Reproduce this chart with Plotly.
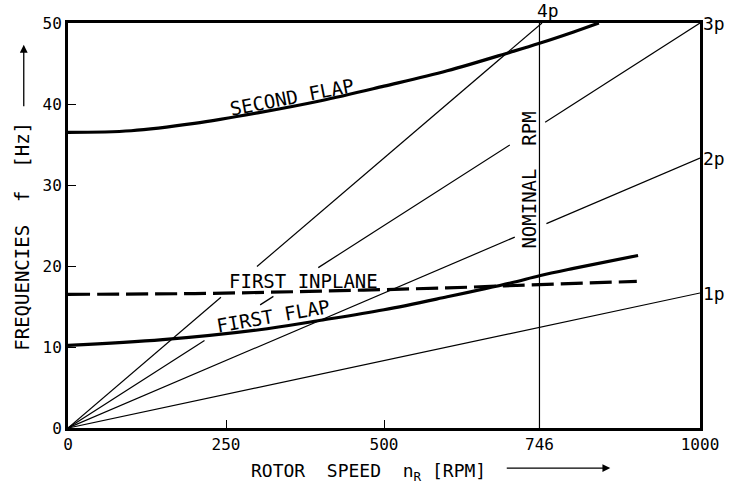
import plotly.graph_objects as go

# Campbell diagram: blade natural frequencies versus rotor speed

# rotor speed breakpoints [RPM] and the natural frequencies [Hz]
second_flap_rpm = [0, 100, 200, 300, 400, 500, 600, 700, 746, 800, 840]
second_flap_hz = [36.5, 36.7, 37.6, 38.9, 40.4, 42.2, 44.1, 46.4, 47.5, 48.9, 50.0]

first_flap_rpm = [0, 150, 300, 400, 500, 600, 700, 746, 800, 902]
first_flap_hz = [10.2, 10.9, 12.1, 13.3, 14.6, 16.2, 17.9, 18.8, 19.7, 21.3]

first_inplane_rpm = [0, 200, 400, 600, 746, 900]
first_inplane_hz = [16.5, 16.6, 16.9, 17.3, 17.7, 18.1]

# harmonic excitation lines n*p: drawn segments (start, end) in RPM,
# interrupted where they pass behind labels
harmonic_orders = [1, 2, 3, 4]
harmonic_labels = ["1p", "2p", "3p", "4p"]
harmonic_segments = {
    1: [(0, 1000)],
    2: [(0, 707), (757, 1000)],
    3: [(0, 216), (304, 325), (396, 699), (755, 1000)],
    4: [(0, 242), (299, 750)],
}

nominal_rpm = 746
x_ticks = [0, 250, 500, 746, 1000]
y_ticks = [0, 10, 20, 30, 40, 50]

FONT = "DejaVu Sans Mono"
INK = "black"

fig = go.Figure()

# excitation lines
for order in harmonic_orders:
    xs, ys = [], []
    for a, b in harmonic_segments[order]:
        xs += [a, b, None]
        ys += [order * a / 60.0, order * b / 60.0, None]
    fig.add_trace(go.Scatter(x=xs, y=ys, mode="lines",
                             line=dict(color=INK, width=1.2),
                             hoverinfo="skip", showlegend=False))

# nominal speed
fig.add_trace(go.Scatter(x=[nominal_rpm, nominal_rpm], y=[0, 50], mode="lines",
                         line=dict(color=INK, width=1.2),
                         hoverinfo="skip", showlegend=False))

# blade modes
fig.add_trace(go.Scatter(x=second_flap_rpm, y=second_flap_hz, mode="lines",
                         line=dict(color=INK, width=3.2, shape="spline"),
                         showlegend=False))
fig.add_trace(go.Scatter(x=first_flap_rpm, y=first_flap_hz, mode="lines",
                         line=dict(color=INK, width=3.2, shape="spline"),
                         showlegend=False))
fig.add_trace(go.Scatter(x=first_inplane_rpm, y=first_inplane_hz, mode="lines",
                         line=dict(color=INK, width=3.2, shape="spline",
                                   dash="22px,7px"),
                         showlegend=False))

lab_font = dict(family=FONT, size=19, color=INK)
small_font = dict(family=FONT, size=18, color=INK)
annotations = [
    dict(x=354, y=40.9, text="SECOND FLAP", textangle=-11,
         showarrow=False, font=lab_font),
    dict(x=372, y=18.2, text="FIRST INPLANE", textangle=0,
         showarrow=False, font=lab_font),
    dict(x=324, y=13.8, text="FIRST FLAP", textangle=-10,
         showarrow=False, font=lab_font),
    dict(x=nominal_rpm, y=30.6, text="NOMINAL\u00a0 RPM", textangle=-90,
         xshift=-10, showarrow=False, font=lab_font),
]

# harmonic labels at the frame
for order, lab in zip(harmonic_orders, harmonic_labels):
    if order == 4:
        annotations.append(dict(x=750, y=50, text=lab, showarrow=False,
                                xanchor="center", yanchor="bottom",
                                xshift=6, yshift=0, font=small_font))
    else:
        annotations.append(dict(x=1000, y=order * 1000 / 60.0, text=lab,
                                showarrow=False, xanchor="left",
                                yanchor="middle", xshift=1, font=small_font))

# axis titles with arrows
annotations += [
    dict(xref="paper", yref="paper", x=-0.0717, y=0.474, xshift=-14,
         text="FREQUENCIES\u00a0 f\u00a0 [Hz]", textangle=-90,
         showarrow=False, font=dict(family=FONT, size=19, color=INK)),
    dict(xref="paper", yref="paper", x=-0.070, y=0.946, ax=0, ay=63,
         text="", showarrow=True, arrowhead=2, arrowsize=1.2, arrowwidth=1.3,
         arrowcolor=INK),
    dict(xref="paper", yref="paper", x=0.2866, y=-0.074, xanchor="left",
         yanchor="top",
         text="ROTOR\u00a0 SPEED\u00a0 n<sub>R</sub> [RPM]",
         showarrow=False, font=dict(family=FONT, size=18, color=INK)),
    dict(xref="paper", yref="paper", x=0.858, y=-0.099, ax=-105, ay=0,
         text="", showarrow=True, arrowhead=2, arrowsize=1.2, arrowwidth=1.3,
         arrowcolor=INK),
]

axis_common = dict(showline=True, linecolor=INK, linewidth=3, mirror=True,
                   ticks="inside", ticklen=8, tickwidth=1.3, tickcolor=INK,
                   showgrid=False, zeroline=False,
                   tickfont=dict(family=FONT, size=16, color=INK))

fig.update_layout(
    width=731, height=484,
    margin=dict(l=68, r=21, t=23, b=56),
    paper_bgcolor="white", plot_bgcolor="white",
    xaxis=dict(range=[0, 1000], tickvals=x_ticks,
               ticktext=[str(v) for v in x_ticks], **axis_common),
    yaxis=dict(range=[0, 50], tickvals=y_ticks,
               ticktext=[str(v) for v in y_ticks], **axis_common),
    annotations=annotations,
)

fig.write_html("out.html")
